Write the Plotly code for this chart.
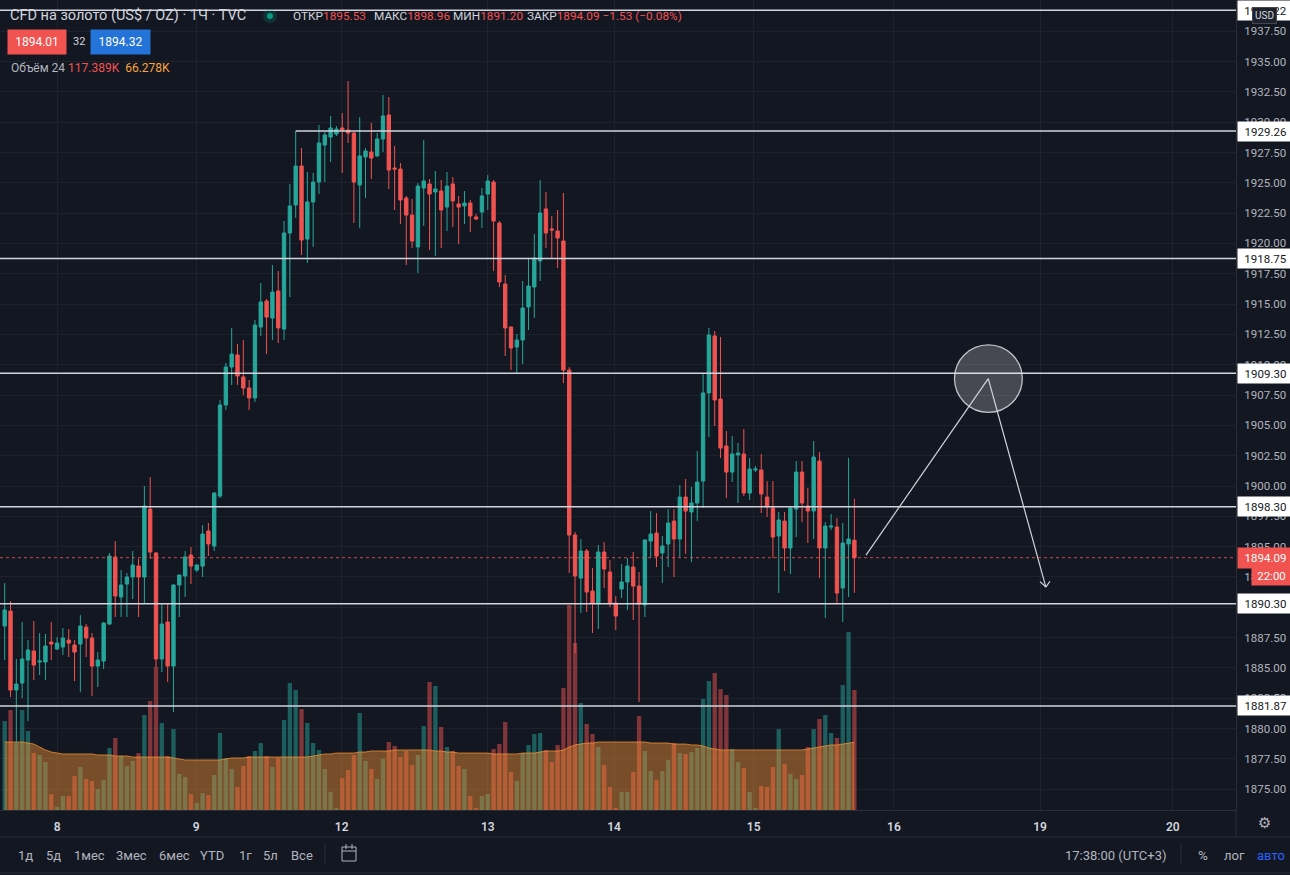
import plotly.graph_objects as go

# ---------------- data ----------------
day_labels = ["8", "9", "12", "13", "14", "15", "16", "19", "20"]
day_positions = [9.0, 32.9, 57.9, 83.0, 104.7, 128.7, 152.8, 177.9, 200.7]  # bar index of each day start

price_ticks = [1875.0, 1877.5, 1880.0, 1882.5, 1885.0, 1887.5, 1890.0, 1892.5, 1895.0,
               1897.5, 1900.0, 1902.5, 1905.0, 1907.5, 1910.0, 1912.5, 1915.0, 1917.5,
               1920.0, 1922.5, 1925.0, 1927.5, 1930.0, 1932.5, 1935.0, 1937.5]

opens = [1888.46, 1889.69, 1883.18, 1883.76, 1885.65, 1886.40, 1885.49, 1885.49, 1887.14, 1886.56,
         1886.73, 1887.30, 1886.89, 1886.97, 1888.37, 1887.47, 1885.16, 1885.57, 1888.62, 1894.15,
         1890.85, 1891.92, 1892.50, 1893.40, 1892.50, 1898.10, 1894.48, 1885.74, 1888.79, 1885.16,
         1891.84, 1892.58, 1894.31, 1893.07, 1893.40, 1896.29, 1895.05, 1899.17, 1906.68, 1909.81,
         1910.80, 1908.99, 1908.08, 1907.26, 1913.11, 1915.25, 1913.85, 1916.08, 1912.94, 1920.86,
         1923.17, 1926.38, 1920.36, 1923.42, 1925.06, 1928.11, 1928.77, 1929.02, 1929.52, 1929.35,
         1929.10, 1924.82, 1927.13, 1927.54, 1927.21, 1928.61, 1930.59, 1926.22, 1926.13, 1923.74,
         1922.34, 1919.71, 1924.57, 1924.90, 1924.24, 1924.32, 1923.00, 1924.90, 1923.25, 1923.09,
         1923.33, 1922.18, 1922.59, 1924.07, 1925.06, 1921.68, 1916.65, 1913.11, 1911.46, 1912.04,
         1914.76, 1916.41, 1918.55, 1922.84, 1921.19, 1921.02, 1920.20, 1909.56, 1895.96, 1892.41,
         1894.64, 1891.34, 1890.35, 1894.56, 1892.91, 1890.35, 1891.51, 1892.09, 1893.32, 1891.75,
         1890.19, 1895.46, 1896.12, 1894.48, 1895.22, 1897.11, 1895.63, 1899.09, 1897.86, 1898.60,
         1900.41, 1907.67, 1912.37, 1907.17, 1903.30, 1901.15, 1902.56, 1902.64, 1899.42, 1901.32,
         1901.32, 1899.09, 1898.19, 1895.88, 1897.11, 1894.89, 1898.10, 1901.15, 1898.35, 1897.94,
         1902.06, 1894.89, 1896.62, 1896.62, 1891.59, 1895.22, 1895.53]
highs = [1892.00, 1890.52, 1885.74, 1888.79, 1887.30, 1888.87, 1887.88, 1887.80, 1888.79, 1887.55,
         1888.29, 1888.21, 1887.30, 1889.36, 1888.62, 1887.88, 1886.31, 1888.80, 1894.48, 1895.46,
         1893.07, 1892.83, 1894.64, 1894.00, 1900.00, 1900.74, 1894.55, 1890.35, 1890.35, 1891.90,
         1892.70, 1894.64, 1894.97, 1893.55, 1896.78, 1896.95, 1899.50, 1907.09, 1910.14, 1913.03,
         1911.71, 1912.04, 1908.74, 1913.69, 1916.74, 1915.42, 1918.22, 1917.73, 1921.85, 1924.90,
         1929.26, 1927.87, 1925.89, 1925.81, 1929.76, 1929.19, 1930.51, 1929.68, 1930.75, 1933.39,
         1929.19, 1930.42, 1927.87, 1929.93, 1929.10, 1932.24, 1932.07, 1928.03, 1926.63, 1923.91,
         1923.66, 1924.98, 1928.53, 1925.31, 1925.97, 1925.23, 1925.89, 1925.48, 1923.91, 1924.32,
         1923.58, 1922.43, 1924.57, 1925.64, 1925.23, 1921.85, 1917.40, 1913.15, 1912.53, 1916.90,
         1918.72, 1920.78, 1925.23, 1924.24, 1922.26, 1922.76, 1924.16, 1909.81, 1896.21, 1895.63,
         1894.81, 1893.24, 1895.14, 1895.38, 1893.90, 1890.93, 1893.57, 1894.06, 1894.56, 1892.91,
         1895.60, 1897.94, 1897.77, 1895.88, 1898.10, 1898.10, 1900.08, 1900.58, 1899.92, 1902.88,
         1909.32, 1913.03, 1912.78, 1912.29, 1904.54, 1904.12, 1903.55, 1904.70, 1902.31, 1901.65,
         1902.64, 1900.41, 1900.41, 1897.86, 1897.86, 1898.27, 1902.06, 1902.06, 1899.84, 1903.71,
         1902.80, 1897.03, 1897.69, 1897.36, 1896.95, 1902.31, 1898.96]
lows = [1885.65, 1882.60, 1878.81, 1882.52, 1880.62, 1884.00, 1884.42, 1884.00, 1885.65, 1886.48,
        1886.07, 1885.90, 1883.92, 1883.01, 1885.90, 1882.68, 1883.43, 1884.91, 1888.55, 1889.20,
        1889.20, 1889.20, 1890.68, 1889.20, 1890.27, 1894.00, 1885.08, 1884.66, 1883.84, 1881.36,
        1889.20, 1890.85, 1891.92, 1892.91, 1892.50, 1894.23, 1894.64, 1899.01, 1906.27, 1908.33,
        1908.33, 1907.50, 1906.27, 1906.93, 1912.37, 1910.88, 1912.04, 1911.79, 1912.04, 1915.58,
        1922.10, 1919.05, 1918.39, 1919.71, 1924.07, 1925.06, 1926.71, 1928.86, 1925.81, 1928.28,
        1921.68, 1921.27, 1923.74, 1925.31, 1927.13, 1927.54, 1924.49, 1922.76, 1921.60, 1918.22,
        1919.62, 1917.56, 1921.44, 1919.46, 1918.96, 1919.62, 1921.02, 1921.35, 1919.95, 1921.60,
        1920.94, 1921.93, 1921.27, 1922.76, 1917.73, 1916.41, 1910.72, 1909.56, 1909.23, 1910.06,
        1912.86, 1913.85, 1916.90, 1919.62, 1918.72, 1917.97, 1908.49, 1892.83, 1886.23, 1889.53,
        1889.61, 1887.88, 1888.21, 1891.59, 1890.02, 1888.13, 1890.76, 1889.78, 1888.95, 1882.19,
        1889.20, 1894.06, 1893.32, 1892.00, 1893.32, 1892.50, 1894.15, 1894.40, 1893.73, 1897.11,
        1898.19, 1904.04, 1904.95, 1902.31, 1899.01, 1900.33, 1898.60, 1899.17, 1898.85, 1901.15,
        1897.77, 1897.44, 1894.06, 1891.18, 1892.99, 1892.74, 1895.79, 1897.03, 1895.30, 1895.63,
        1892.41, 1889.12, 1896.37, 1890.35, 1888.79, 1890.85, 1891.20]
closes = [1889.78, 1883.18, 1883.67, 1885.74, 1886.48, 1885.24, 1885.57, 1886.81, 1886.97, 1887.05,
          1887.47, 1887.05, 1886.31, 1888.46, 1887.47, 1885.16, 1885.65, 1888.70, 1894.23, 1890.93,
          1891.84, 1892.50, 1893.49, 1892.50, 1898.35, 1894.56, 1885.74, 1888.62, 1885.16, 1891.84,
          1892.66, 1894.15, 1893.40, 1893.49, 1896.04, 1895.22, 1899.42, 1906.68, 1909.81, 1910.88,
          1909.07, 1908.08, 1907.26, 1913.27, 1915.17, 1913.93, 1915.99, 1913.03, 1920.86, 1923.09,
          1926.38, 1920.28, 1923.42, 1925.06, 1928.28, 1928.94, 1929.52, 1929.43, 1929.35, 1929.10,
          1925.06, 1927.21, 1927.62, 1927.04, 1928.61, 1930.51, 1926.05, 1926.13, 1923.58, 1922.34,
          1920.20, 1924.73, 1925.15, 1924.07, 1924.49, 1922.76, 1924.73, 1923.50, 1923.00, 1923.33,
          1922.26, 1922.01, 1923.91, 1925.15, 1921.85, 1916.82, 1913.03, 1911.38, 1912.04, 1914.68,
          1916.49, 1918.80, 1922.51, 1920.86, 1921.11, 1920.45, 1909.56, 1895.96, 1892.58, 1894.64,
          1891.26, 1890.35, 1894.56, 1893.16, 1890.35, 1889.28, 1892.09, 1893.40, 1891.75, 1890.27,
          1895.55, 1896.04, 1894.23, 1895.05, 1896.95, 1895.63, 1899.09, 1897.94, 1898.60, 1900.33,
          1907.67, 1912.45, 1907.09, 1903.13, 1901.15, 1902.64, 1902.72, 1899.42, 1901.40, 1901.40,
          1899.34, 1898.27, 1895.79, 1897.20, 1894.89, 1898.19, 1901.15, 1898.60, 1897.94, 1902.39,
          1894.89, 1896.70, 1896.70, 1891.18, 1895.30, 1895.63, 1894.09]

volume_k = [87.0, 97.8, 65.5, 97.8, 77.3, 55.7, 53.8, 46.9, 15.6, 2.9,
            13.7, 13.7, 33.3, 42.1, 30.3, 28.4, 20.5, 29.3, 60.6, 70.4,
            52.8, 43.0, 47.9, 55.7, 92.9, 106.6, 139.9, 85.1, 52.8, 79.2,
            35.2, 32.3, 15.6, 6.8, 16.6, 14.7, 34.2, 75.3, 50.9, 40.1,
            22.5, 43.0, 52.8, 57.7, 65.5, 52.8, 42.1, 50.9, 88.0, 124.2,
            117.4, 98.8, 85.1, 65.5, 58.7, 40.1, 17.6, 2.0, 31.3, 39.1,
            53.8, 94.9, 47.9, 40.1, 30.3, 49.9, 66.5, 62.6, 51.8, 57.7,
            44.0, 53.8, 82.2, 125.2, 121.3, 81.2, 61.6, 57.7, 43.0, 40.1,
            13.7, 2.0, 13.7, 15.6, 59.7, 64.5, 86.1, 37.2, 28.4, 55.7,
            63.6, 74.3, 75.3, 58.7, 46.9, 63.6, 119.3, 200.5, 163.3, 104.6,
            84.1, 74.3, 61.6, 44.0, 22.5, 2.0, 17.6, 17.6, 37.2, 91.9,
            57.7, 38.1, 29.3, 38.1, 48.9, 65.5, 55.7, 54.8, 56.7, 60.6,
            108.6, 126.2, 134.0, 118.3, 112.5, 59.7, 46.9, 41.1, 17.6, 2.0,
            23.5, 22.5, 42.1, 79.2, 45.0, 35.2, 30.3, 34.2, 61.6, 79.2,
            89.0, 92.9, 75.3, 70.4, 122.3, 174.1, 117.389]

volume_ma_k = [66.5, 66.5, 66.5, 66.5, 65.5, 64.5, 61.6, 58.7, 56.7, 55.7,
               54.8, 54.8, 54.8, 54.8, 54.8, 54.8, 53.8, 53.8, 53.8, 52.8,
               52.8, 52.8, 51.8, 51.8, 51.8, 51.8, 51.8, 51.8, 51.8, 50.9,
               49.9, 48.9, 48.9, 48.9, 48.9, 48.9, 48.9, 48.9, 49.9, 50.9,
               50.9, 50.9, 51.8, 51.8, 51.8, 51.8, 51.8, 51.8, 51.8, 51.8,
               51.8, 51.8, 51.8, 52.8, 53.8, 54.8, 54.8, 55.7, 55.7, 55.7,
               55.7, 56.7, 56.7, 57.7, 57.7, 57.7, 57.7, 58.7, 58.7, 58.7,
               58.7, 58.7, 58.7, 58.7, 57.7, 57.7, 56.7, 56.7, 55.7, 55.7,
               55.7, 55.7, 55.7, 55.7, 54.8, 54.8, 54.8, 54.8, 54.8, 55.7,
               55.7, 55.7, 56.7, 57.7, 57.7, 57.7, 58.7, 61.6, 63.6, 64.5,
               65.5, 65.5, 66.5, 66.5, 66.5, 66.5, 66.5, 66.5, 66.5, 66.5,
               66.5, 65.5, 65.5, 65.5, 65.5, 64.5, 64.5, 64.5, 63.6, 63.6,
               62.6, 60.6, 59.7, 58.7, 58.7, 58.7, 58.7, 58.7, 58.7, 58.7,
               58.7, 58.7, 58.7, 58.7, 58.7, 58.7, 58.7, 58.7, 59.7, 60.6,
               61.6, 62.6, 63.6, 63.6, 64.5, 65.5, 66.278]

levels = [1939.22, 1929.26, 1918.75, 1909.30, 1898.30, 1890.30, 1881.87]
level_start_bar = [None, 50, None, None, None, None, None]   # None = from the left edge
last_price = 1894.09
change_abs = 1.53
change_pct = 0.08
bid_price, ask_price, spread = 1894.01, 1894.32, "32"
time_to_close = "22:00"

# hand-drawn forecast (bar index, price)
trend_x = [148.0, 169.0, 178.9]
trend_y = [1894.31, 1908.86, 1891.67]
arrow_arm_x = [177.9, 179.6]
arrow_arm_y = [1892.12, 1892.15]
circle_x = [163.2, 174.85]
circle_y = [1906.08, 1911.63]

# ---------------- figure ----------------
W, H = 1290, 875
ML, MR, MT, MB = 0, 54, 0, 65
PW, PH = W - ML - MR, H - MT - MB
BG = "#131722"
TXT = "#d1d4dc"
AX = "#b2b5be"
GRID = "#1e222d"
UP, DN = "#26a69a", "#ef5350"
FONT = "Roboto"


def fx(px):
    return (px - ML) / PW


def fy(py):
    return (MT + PH - py) / PH


bars = list(range(len(opens)))
vol_colors = ["rgba(38,166,154,0.5)" if c >= o else "rgba(239,83,80,0.5)" for o, c in zip(opens, closes)]

fig = go.Figure()
fig.add_trace(go.Bar(x=bars, y=volume_k, marker=dict(color=vol_colors, line=dict(width=0)),
                     width=0.74, xaxis="x", yaxis="y", hoverinfo="skip"))
fig.add_trace(go.Scatter(x=bars, y=volume_ma_k, mode="lines", xaxis="x", yaxis="y",
                         line=dict(color="rgba(245,150,50,0.75)", width=1),
                         fill="tozeroy", fillcolor="rgba(245,145,50,0.45)", hoverinfo="skip"))
fig.add_trace(go.Candlestick(x=bars, open=opens, high=highs, low=lows, close=closes,
                             xaxis="x", yaxis="y2", whiskerwidth=0,
                             increasing=dict(line=dict(color=UP, width=1), fillcolor=UP),
                             decreasing=dict(line=dict(color=DN, width=1), fillcolor=DN),
                             hoverinfo="skip"))

shapes = []
for lv, st in zip(levels, level_start_bar):
    if st is None:
        shapes.append(dict(type="line", xref="paper", yref="y2", x0=0, x1=1.0, y0=lv, y1=lv,
                           line=dict(color="#d1d4dc", width=1.5), layer="above"))
    else:
        shapes.append(dict(type="line", xref="x", yref="y2", x0=st, x1=211.6, y0=lv, y1=lv,
                           line=dict(color="#d1d4dc", width=1.5), layer="above"))
# current price dotted line
shapes.append(dict(type="line", xref="paper", yref="y2", x0=0, x1=1.0, y0=last_price, y1=last_price,
                   line=dict(color="rgba(239,83,80,0.85)", width=1, dash="dot"), layer="above"))
# forecast drawing
shapes.append(dict(type="circle", xref="x", yref="y2", x0=circle_x[0], x1=circle_x[1],
                   y0=circle_y[0], y1=circle_y[1], fillcolor="rgba(255,255,255,0.22)",
                   line=dict(color="rgba(220,222,228,0.85)", width=1.3), layer="above"))
for i in range(2):
    shapes.append(dict(type="line", xref="x", yref="y2", x0=trend_x[i], x1=trend_x[i + 1],
                       y0=trend_y[i], y1=trend_y[i + 1], line=dict(color="#d1d4dc", width=1.2), layer="above"))
for ax_, ay_ in zip(arrow_arm_x, arrow_arm_y):
    shapes.append(dict(type="line", xref="x", yref="y2", x0=ax_, x1=trend_x[2], y0=ay_, y1=trend_y[2],
                       line=dict(color="#d1d4dc", width=1.2), layer="above"))

# header status dot
shapes.append(dict(type="circle", xref="paper", yref="paper", x0=fx(263), x1=fx(277), y0=fy(23), y1=fy(9),
                   fillcolor="rgba(8,153,129,0.22)", line=dict(width=0), layer="above"))
shapes.append(dict(type="circle", xref="paper", yref="paper", x0=fx(267), x1=fx(273), y0=fy(19), y1=fy(13),
                   fillcolor="#089981", line=dict(width=0), layer="above"))
# time axis / toolbar separators
for seg in [(0, 837, 1290, 837), (0, 873, 1290, 873), (1236, 810, 1236, 837),
            (325, 843, 325, 865), (1181, 843, 1181, 865)]:
    shapes.append(dict(type="line", xref="paper", yref="paper", x0=fx(seg[0]), x1=fx(seg[2]),
                       y0=fy(seg[1]), y1=fy(seg[3]), line=dict(color="#2a2e39", width=1), layer="above"))
# calendar icon
shapes.append(dict(type="rect", xref="paper", yref="paper", x0=fx(342), x1=fx(356), y0=fy(861), y1=fy(847),
                   line=dict(color=AX, width=1), layer="above"))
for seg in [(346, 844, 346, 849), (352, 844, 352, 849), (342, 851, 356, 851)]:
    shapes.append(dict(type="line", xref="paper", yref="paper", x0=fx(seg[0]), x1=fx(seg[2]),
                       y0=fy(seg[1]), y1=fy(seg[3]), line=dict(color=AX, width=1), layer="above"))

ann = []


def text(px, py, s, size=12, color=TXT, anchor="left", **kw):
    ann.append(dict(xref="paper", yref="paper", x=fx(px), y=fy(py), text=s, showarrow=False,
                    xanchor=anchor, yanchor="middle", font=dict(family=FONT, size=size, color=color), **kw))


# header
red = "#f05350"
text(8, 16, "CFD на золото (US$ / OZ) · 1Ч · TVC", size=14.5)
text(291, 16, f"ОТКР<span style='color:{red}'>{opens[-1]:.2f}</span>", size=11.8)
text(372, 16, f"МАКС<span style='color:{red}'>{highs[-1]:.2f}</span>", size=11.8)
text(451, 16, f"МИН<span style='color:{red}'>{lows[-1]:.2f}</span>", size=11.8)
text(525, 16, f"ЗАКР<span style='color:{red}'>{closes[-1]:.2f} −{change_abs:.2f} (−{change_pct:.2f}%)</span>",
     size=11.8)
text(37, 42, f"{bid_price:.2f}", size=12, color="#ffffff", anchor="center", bgcolor="#f05350", width=56, height=22)
text(79, 42, spread, size=11, color=TXT, anchor="center")
text(120.5, 42, f"{ask_price:.2f}", size=12, color="#ffffff", anchor="center", bgcolor="#2373d9",
     width=57, height=22)
text(9, 68, f"Объём 24 <span style='color:{red}'>{volume_k[-1]:.3f}K</span> "
            f"<span style='color:#f7a53c'> {volume_ma_k[-1]:.3f}K</span>", size=12, color=AX)

# price labels on the axis
for lv in levels:
    ann.append(dict(xref="paper", yref="y2", x=fx(1237), y=lv, text=f"{lv:.2f}", showarrow=False,
                    xanchor="left", yanchor="middle", bgcolor="#ffffff", width=53, height=17,
                    font=dict(family=FONT, size=11.5, color="#131722")))
ann.append(dict(xref="paper", yref="y2", x=fx(1237), y=last_price, text=f"{last_price:.2f}", showarrow=False,
                xanchor="left", yanchor="middle", bgcolor="#f05350", width=53, height=18,
                font=dict(family=FONT, size=11.5, color="#ffffff")))
text(1271.5, 575, time_to_close, size=11.5, color="#ffffff", anchor="center", bgcolor="#f05350",
     width=37, height=17)
text(1264.5, 16, "USD", size=10, color=TXT, anchor="center", bgcolor="#1e222d", bordercolor="#434651",
     borderwidth=1, borderpad=2)
text(1264, 823, "⚙", size=15, color=AX, anchor="center")
ann[-1]["font"]["family"] = "DejaVu Sans"

# bottom toolbar
for px, s in [(16, "1д"), (44, "5д"), (72, "1мес"), (114, "3мес"), (157, "6мес"), (198, "YTD"),
              (237, "1г"), (261, "5л"), (289, "Все")]:
    text(px, 855, s, size=13, color=AX)
text(1063, 855, "17:38:00 (UTC+3)", size=13, color=AX)
text(1203, 855, "%", size=13.5, color=AX, anchor="center")
text(1222, 855, "лог", size=13, color=AX)
text(1255, 855, "авто", size=13, color="#2962ff")

fig.update_layout(
    width=W, height=H, margin=dict(l=ML, r=MR, t=MT, b=MB),
    paper_bgcolor=BG, plot_bgcolor=BG, showlegend=False,
    boxgap=0.42, boxgroupgap=0,
    xaxis=dict(range=[-0.808, 211.57], tickmode="array", tickvals=day_positions, ticktext=day_labels,
               showgrid=True, gridcolor=GRID, gridwidth=1, zeroline=False, showline=True,
               linecolor="#2a2e39", ticks="", ticklabelstandoff=6,
               tickfont=dict(family=FONT, size=12, color=TXT, weight=600),
               rangeslider=dict(visible=False), fixedrange=True),
    yaxis=dict(range=[0, 792.2], visible=False, fixedrange=True),
    yaxis2=dict(range=[1873.29, 1940.07], overlaying="y", side="right", tickmode="array",
                tickvals=price_ticks, ticktext=[f"{t:.2f}" for t in price_ticks],
                showgrid=True, gridcolor=GRID, gridwidth=1, zeroline=False, showline=True,
                linecolor="#2a2e39", ticks="", ticklabelstandoff=5,
                tickfont=dict(family=FONT, size=11.5, color=AX), fixedrange=True),
    shapes=shapes, annotations=ann,
)

fig.write_html("out.html")
